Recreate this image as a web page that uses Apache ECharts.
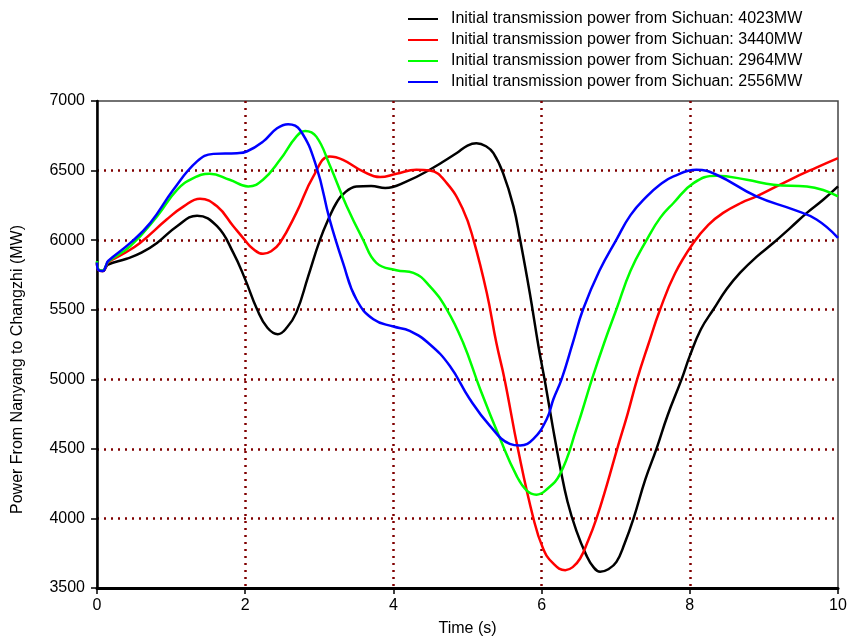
<!DOCTYPE html>
<html>
<head>
<meta charset="utf-8">
<script src="https://cdn.jsdelivr.net/npm/echarts@6/dist/echarts.min.js"></script>
<style>
  html, body { margin: 0; padding: 0; background: #ffffff; }
  #chart { width: 853px; height: 642px; }
</style>
</head>
<body>
<div id="chart"></div>
<script>
// series labels
const seriesNames = [
  'Initial transmission power from Sichuan: 4023MW',
  'Initial transmission power from Sichuan: 3440MW',
  'Initial transmission power from Sichuan: 2964MW',
  'Initial transmission power from Sichuan: 2556MW'
]
const seriesColors = ['#000000', '#ff0000', '#00ff00', '#0000ff']

// axis ticks
const xTicks = [0, 2, 4, 6, 8, 10]
const yTicks = [3500, 4000, 4500, 5000, 5500, 6000, 6500, 7000]

// 4023MW (black)
const time4023 = [0, 0.02, 0.08, 0.12, 0.15, 0.4, 0.6, 0.81, 1.08, 1.35, 1.62, 1.84, 2.0, 2.16, 2.3, 2.44, 2.56, 2.69, 2.85, 3.01, 3.14, 3.23, 3.32, 3.5, 3.7, 3.89, 4.18, 4.49, 4.85, 5.0, 5.12, 5.25, 5.35, 5.48, 5.62, 5.71, 5.84, 5.96, 6.05, 6.15, 6.25, 6.35, 6.47, 6.6, 6.7, 6.79, 6.9, 7.01, 7.12, 7.24, 7.4, 7.55, 7.7, 7.89, 8.0, 8.15, 8.32, 8.5, 8.68, 8.9, 9.13, 9.35, 9.58, 9.8, 10]
const power4023 = [5840, 5785, 5778, 5805, 5825, 5866, 5910, 5980, 6100, 6176, 6100, 5909, 5718, 5503, 5370, 5324, 5370, 5479, 5740, 6004, 6171, 6267, 6330, 6386, 6390, 6375, 6422, 6506, 6625, 6680, 6697, 6675, 6625, 6482, 6243, 6004, 5622, 5230, 4970, 4660, 4370, 4120, 3910, 3740, 3650, 3617, 3635, 3688, 3820, 3999, 4280, 4500, 4740, 5001, 5168, 5360, 5503, 5650, 5766, 5880, 5981, 6085, 6196, 6290, 6386]

// 3440MW (red)
const time3440 = [0, 0.02, 0.08, 0.12, 0.15, 0.35, 0.58, 0.94, 1.17, 1.39, 1.62, 1.84, 1.99, 2.1, 2.24, 2.35, 2.47, 2.69, 2.92, 3.14, 3.32, 3.59, 3.82, 4.04, 4.31, 4.49, 4.72, 4.94, 5.08, 5.26, 5.39, 5.5, 5.68, 5.89, 6.02, 6.15, 6.32, 6.42, 6.52, 6.62, 6.74, 6.88, 7.02, 7.16, 7.29, 7.44, 7.6, 7.8, 8.05, 8.25, 8.45, 8.7, 8.9, 9.35, 9.7, 10]
const power3440 = [5840, 5785, 5778, 5810, 5840, 5900, 5980, 6148, 6243, 6298, 6243, 6100, 6004, 5940, 5902, 5920, 5981, 6196, 6458, 6601, 6577, 6494, 6453, 6477, 6506, 6501, 6410, 6219, 6004, 5622, 5260, 5001, 4500, 3999, 3784, 3680, 3628, 3650, 3712, 3830, 3999, 4240, 4500, 4750, 5001, 5250, 5503, 5760, 5981, 6110, 6196, 6270, 6314, 6434, 6520, 6590]

// 2964MW (green)
const time2964 = [0, 0.02, 0.08, 0.12, 0.15, 0.45, 0.81, 1.08, 1.3, 1.52, 1.79, 2.04, 2.24, 2.47, 2.69, 2.81, 2.96, 3.14, 3.37, 3.59, 3.77, 4.04, 4.27, 4.49, 4.72, 4.94, 5.17, 5.44, 5.66, 5.8, 5.93, 6.05, 6.25, 6.47, 6.68, 6.85, 7.01, 7.2, 7.42, 7.6, 7.78, 8.05, 8.36, 8.77, 9.13, 9.58, 9.8, 10]
const power2964 = [5850, 5790, 5782, 5815, 5845, 5957, 6171, 6362, 6446, 6477, 6434, 6386, 6434, 6577, 6744, 6785, 6744, 6540, 6243, 6004, 5837, 5784, 5765, 5670, 5503, 5264, 4930, 4572, 4309, 4200, 4171, 4200, 4320, 4643, 5001, 5270, 5503, 5780, 6004, 6160, 6267, 6410, 6463, 6434, 6398, 6386, 6360, 6314]

// 2556MW (blue)
const time2556 = [0, 0.02, 0.08, 0.12, 0.15, 0.45, 0.72, 1.03, 1.35, 1.57, 1.89, 2.02, 2.24, 2.43, 2.58, 2.74, 2.96, 3.14, 3.32, 3.5, 3.73, 4.0, 4.22, 4.49, 4.76, 5.03, 5.3, 5.57, 5.71, 5.89, 6.07, 6.16, 6.27, 6.42, 6.56, 6.78, 7.01, 7.2, 7.42, 7.6, 7.78, 8.09, 8.36, 8.9, 9.4, 9.71, 10]
const power2556 = [5840, 5785, 5778, 5815, 5850, 5980, 6124, 6362, 6566, 6620, 6625, 6637, 6708, 6804, 6833, 6792, 6529, 6148, 5837, 5575, 5431, 5379, 5348, 5252, 5097, 4858, 4667, 4536, 4524, 4572, 4715, 4858, 5001, 5260, 5503, 5780, 6004, 6180, 6314, 6400, 6458, 6506, 6470, 6314, 6219, 6148, 6017]

const seriesTimes = [time4023, time3440, time2964, time2556]
const seriesPowers = [power4023, power3440, power2964, power2556]

const fontFamily = '"Liberation Sans", Arial, sans-serif'
const gridLine = { color: '#800000', width: 2.5, type: [2, 5] }

function getChartOption() {
  return {
    animation: false,
    backgroundColor: '#ffffff',
    textStyle: { fontFamily: fontFamily },
    legend: {
      orient: 'vertical',
      left: 408,
      top: 11,
      padding: 0,
      itemGap: 5,
      itemWidth: 30,
      itemHeight: 2,
      icon: 'rect',
      data: seriesNames,
      textStyle: {
        fontFamily: fontFamily,
        fontSize: 16,
        lineHeight: 16,
        color: '#000000',
        padding: [0, 0, 0, 8]
      }
    },
    grid: {
      left: 97,
      right: 15,
      top: 101,
      bottom: 52,
      show: true,
      borderColor: '#444444',
      borderWidth: 1.5
    },
    xAxis: {
      type: 'value',
      min: xTicks[0],
      max: xTicks[xTicks.length - 1],
      interval: 2,
      name: 'Time (s)',
      nameLocation: 'middle',
      nameGap: 33,
      nameTextStyle: { fontFamily: fontFamily, fontSize: 16, color: '#000000' },
      axisLine: { lineStyle: { color: '#000000', width: 3 } },
      axisTick: { show: true, length: 6, lineStyle: { color: '#000000', width: 1.5 } },
      axisLabel: { margin: 10, fontSize: 16, color: '#000000', fontFamily: fontFamily },
      splitLine: { show: true, showMinLine: false, showMaxLine: false, lineStyle: gridLine }
    },
    yAxis: {
      type: 'value',
      min: yTicks[0],
      max: yTicks[yTicks.length - 1],
      interval: 500,
      name: 'Power From Nanyang to Changzhi (MW)',
      nameLocation: 'middle',
      nameRotate: 90,
      nameGap: 71,
      nameTextStyle: {
        fontFamily: fontFamily,
        fontSize: 16,
        color: '#000000',
        padding: [0, 50, 0, 0]
      },
      axisLine: { show: true, lineStyle: { color: '#000000', width: 2.5 } },
      axisTick: { show: true, length: 6, lineStyle: { color: '#000000', width: 1.5 } },
      axisLabel: {
        margin: 12,
        fontSize: 16,
        color: '#000000',
        fontFamily: fontFamily,
        formatter: (v) => String(v)
      },
      splitLine: { show: true, showMinLine: false, showMaxLine: false, lineStyle: gridLine }
    },
    series: seriesNames.map((name, i) => ({
      name: name,
      type: 'line',
      smooth: 0.45,
      showSymbol: false,
      symbol: 'none',
      color: seriesColors[i],
      lineStyle: { color: seriesColors[i], width: 2.5 },
      data: seriesTimes[i].map((t, k) => [t, seriesPowers[i][k]])
    }))
  }
}

const chartInstance = echarts.init(document.getElementById('chart'), null, { renderer: 'canvas' })
chartInstance.setOption(getChartOption(), { notMerge: true })
</script>
</body>
</html>
